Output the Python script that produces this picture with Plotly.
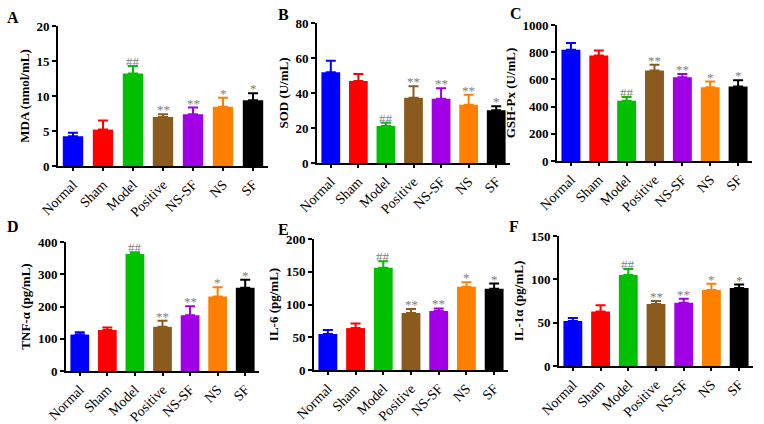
import plotly.graph_objects as go

categories = ["Normal", "Sham", "Model", "Positive", "NS-SF", "NS", "SF"]
colors = ["#0000FF", "#FF0000", "#00C000", "#8B5A1E", "#A100E6", "#FF8000", "#000000"]

mda = [4.25, 5.2, 13.2, 7.0, 7.4, 8.45, 9.4]
mda_err = [0.5, 1.3, 1.1, 0.4, 0.95, 1.3, 1.0]
sod = [51.9, 46.9, 21.2, 37.3, 36.7, 33.3, 30.2]
sod_err = [6.5, 4.0, 1.8, 6.5, 6.0, 5.7, 2.3]
gsh = [818, 776, 443, 665, 616, 542, 547]
gsh_err = [49, 37, 27, 42, 24, 42, 47]
tnf = [113, 127, 363, 137, 173, 231, 258]
tnf_err = [7, 8, 5, 19, 28, 29, 25]
il6 = [55, 64, 156, 87, 90, 127, 124]
il6_err = [6, 7, 10, 6, 4, 7, 8]
il1a = [52, 63, 105, 71.5, 73, 87.7, 90]
il1a_err = [3.4, 7, 7, 3.5, 4.7, 7.3, 4]

sig_a = ["", "", "##", "**", "**", "*", "*"]
sig_b = ["", "", "##", "**", "**", "**", "*"]
sig_c = ["", "", "##", "**", "**", "*", "*"]
sig_d = ["", "", "##", "**", "**", "*", "*"]
sig_e = ["", "", "##", "**", "**", "*", "*"]
sig_f = ["", "", "##", "**", "**", "*", "*"]

W, H = 764, 424
panels = [
    dict(letter="A", vals=mda, err=mda_err, sig=sig_a, title="MDA (nmol/mL)", ymax=20, dtick=5,
         px=(58, 268), py=(26, 166), lx=5, ly=17),
    dict(letter="B", vals=sod, err=sod_err, sig=sig_b, title="SOD (U/mL)", ymax=80, dtick=20,
         px=(317, 510), py=(23, 163), lx=276, ly=15),
    dict(letter="C", vals=gsh, err=gsh_err, sig=sig_c, title="GSH-Px (U/mL)", ymax=1000, dtick=200,
         px=(557, 752), py=(25, 161), lx=508, ly=13),
    dict(letter="D", vals=tnf, err=tnf_err, sig=sig_d, title="TNF-\u03b1 (pg/mL)", ymax=400, dtick=100,
         px=(66, 259), py=(242, 371), lx=5, ly=227),
    dict(letter="E", vals=il6, err=il6_err, sig=sig_e, title="IL-6 (pg/mL)", ymax=200, dtick=50,
         px=(314, 508), py=(239, 370), lx=276, ly=229),
    dict(letter="F", vals=il1a, err=il1a_err, sig=sig_f, title="IL-1\u03b1 (pg/mL)", ymax=150, dtick=50,
         px=(559, 753), py=(236, 366), lx=507, ly=227),
]

FONT = "Liberation Serif"
fig = go.Figure()
layout = {}
annotations = []
for i, p in enumerate(panels):
    n = "" if i == 0 else str(i + 1)
    xa, ya = "x" + n, "y" + n
    for j, c in enumerate(categories):
        fig.add_trace(go.Bar(
            x=[c], y=[p["vals"][j]], xaxis=xa, yaxis=ya,
            marker=dict(color=colors[j], line=dict(width=0)),
            error_y=dict(type="data", symmetric=False, array=[p["err"][j]], arrayminus=[0],
                         color=colors[j], thickness=2, width=5),
            showlegend=False, width=0.68, hoverinfo="skip",
        ))
        if p["sig"][j]:
            annotations.append(dict(
                x=c, y=p["vals"][j] + p["err"][j], xref=xa, yref=ya,
                text=p["sig"][j], showarrow=False, yanchor="bottom", yshift=-5,
                font=dict(family=FONT, size=13, color="#808080")))
    layout["xaxis" + n] = dict(
        domain=[p["px"][0] / W, p["px"][1] / W], anchor=ya, automargin=False,
        categoryorder="array", categoryarray=categories, range=[-0.5, 6.5],
        showline=True, linecolor="black", linewidth=2, ticks="outside", ticklen=3,
        tickwidth=1.5, tickcolor="black", tickangle=-45,
        tickfont=dict(family=FONT, size=14, color="black"), showgrid=False, zeroline=False)
    layout["yaxis" + n] = dict(
        domain=[1 - p["py"][1] / H, 1 - p["py"][0] / H], anchor=xa, automargin=False,
        range=[0, p["ymax"]], dtick=p["dtick"], tick0=0,
        showline=True, linecolor="black", linewidth=2, ticks="outside", ticklen=4,
        tickwidth=2, tickcolor="black",
        tickfont=dict(family=FONT, size=13, color="black", weight="bold"),
        title=dict(text="<b>" + p["title"] + "</b>", font=dict(family=FONT, size=13, color="black"),
                   standoff=4),
        showgrid=False, zeroline=False)
    annotations.append(dict(
        x=p["lx"] / W, y=1 - p["ly"] / H, xref="paper", yref="paper",
        text="<b>" + p["letter"] + "</b>", showarrow=False, xanchor="left", yanchor="middle",
        font=dict(family=FONT, size=16, color="black")))

fig.update_layout(**layout)
fig.update_layout(
    width=W, height=H, margin=dict(l=0, r=0, t=0, b=0),
    paper_bgcolor="white", plot_bgcolor="white",
    annotations=annotations, bargap=0.32,
    font=dict(family=FONT, color="black"),
)

fig.write_html("out.html", config={"displayModeBar": False},
               post_script="document.body.style.margin='0';document.body.style.overflow='hidden';")
